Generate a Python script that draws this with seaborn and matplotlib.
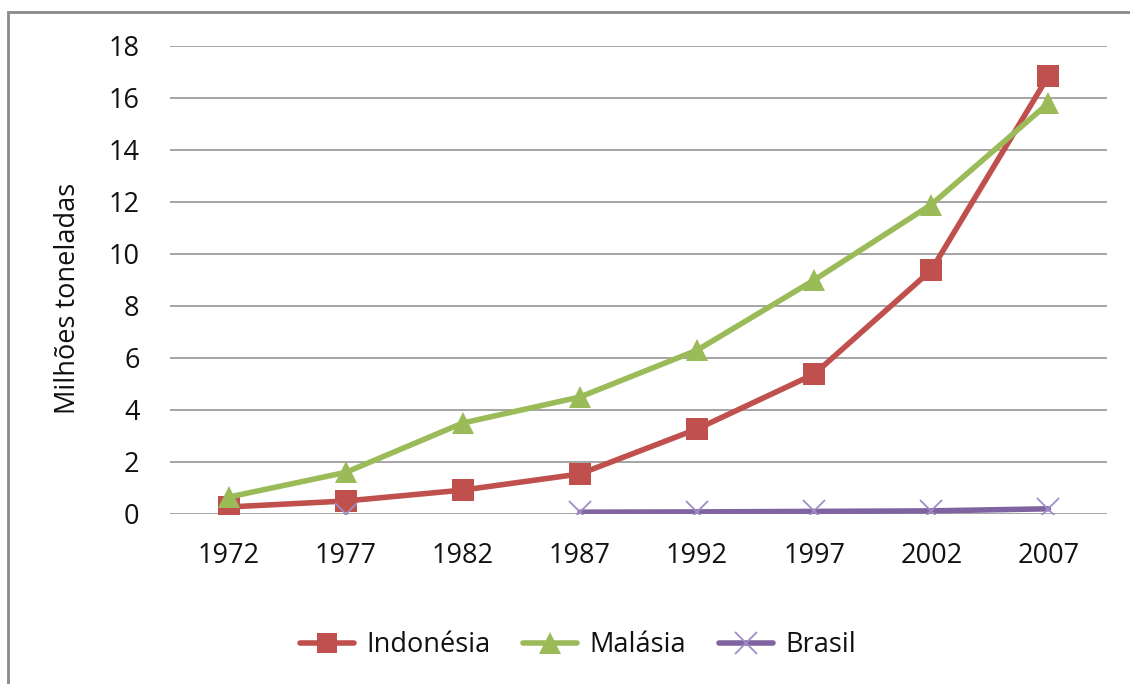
import numpy as np
import pandas as pd
import matplotlib
matplotlib.use("Agg")
import matplotlib.pyplot as plt
from matplotlib.lines import Line2D
from matplotlib.patches import Rectangle
import seaborn as sns

anos = ["1972", "1977", "1982", "1987", "1992", "1997", "2002", "2007"]
indonesia = [0.27, 0.5, 0.92, 1.54, 3.27, 5.38, 9.38, 16.85]
malasia = [0.65, 1.6, 3.5, 4.5, 6.3, 9.0, 11.9, 15.8]
brasil = [np.nan, 0.0, np.nan, 0.07, 0.08, 0.1, 0.12, 0.2]
series_nomes = ["Indonésia", "Malásia", "Brasil"]
ylabel = "Milhões toneladas"

sns.set_theme(style="white")
plt.rcParams["font.family"] = ["Open Sans", "DejaVu Sans"]

FS = 19.5
fig = plt.figure(figsize=(11.3, 6.84), dpi=100)
ax = fig.add_axes([170 / 1130, 1 - 514 / 684, (1107 - 170) / 1130, (514 - 46) / 684])

styles = {
    "Indonésia": dict(color="#C0504D", marker="s", ms=15.5, mec="#C0504D", mew=0, lw=4.0),
    "Malásia": dict(color="#9BBB59", marker="^", ms=16, mec="#9BBB59", mew=0, lw=4.0),
    "Brasil": dict(color="#8064A2", marker="x", ms=16, mec="#A08CC4", mew=1.3, lw=4.0),
}

rows = []
for nome, vals in zip(series_nomes, [indonesia, malasia, brasil]):
    seg = 0
    prev_nan = False
    for i, v in enumerate(vals):
        if np.isnan(v):
            prev_nan = True
            continue
        if prev_nan:
            seg += 1
            prev_nan = False
        rows.append(dict(serie=nome, pos=i, valor=v, seg=seg))
df = pd.DataFrame(rows)

for k, nome in enumerate(series_nomes):
    st = styles[nome]
    sub = df[df.serie == nome]
    sns.lineplot(data=sub, x="pos", y="valor", units="seg", estimator=None,
                 color=st["color"], lw=st["lw"], marker=st["marker"],
                 markersize=st["ms"], markeredgecolor=st["mec"],
                 markeredgewidth=st["mew"], ax=ax, legend=False, zorder=3 + k)

ax.set_xlim(-0.5, len(anos) - 0.5)
ax.set_ylim(0, 18)
ax.set_xticks(range(len(anos)))
ax.set_xticklabels(anos)
ax.set_yticks(np.arange(0, 19, 2))
ax.set_yticklabels([str(v) for v in range(0, 19, 2)])
ax.tick_params(axis="both", length=0, labelsize=FS, colors="#111111")
ax.tick_params(axis="y", pad=22)
ax.tick_params(axis="x", pad=20)
ax.yaxis.grid(True, color="#8c8c8c", lw=1.1)
ax.set_axisbelow(True)
for s in ax.spines.values():
    s.set_visible(False)
ax.set_xlabel("")
ax.set_ylabel(ylabel, fontsize=FS, color="#111111")
ax.yaxis.set_label_coords((82 - 170) / 937, (514 - 298) / 468)

handles = []
for nome in series_nomes:
    st = styles[nome]
    handles.append(Line2D([], [], color=st["color"], lw=st["lw"], marker=st["marker"],
                          markersize=st["ms"] * 0.95, markeredgecolor=st["mec"],
                          markeredgewidth=st["mew"]))
fig.legend(handles, series_nomes, loc="center", bbox_to_anchor=(578 / 1130, 1 - 645 / 684),
           ncol=3, frameon=False, fontsize=FS, handlelength=2.0, handletextpad=0.45,
           columnspacing=1.2, labelcolor="#111111")

fig.add_artist(Rectangle((8 / 1130, -0.2), 1.5, 1 - 12 / 684 + 0.2, transform=fig.transFigure,
                         fill=False, edgecolor="#8a8a8a", lw=2))

fig.savefig("out.png", dpi=100)
